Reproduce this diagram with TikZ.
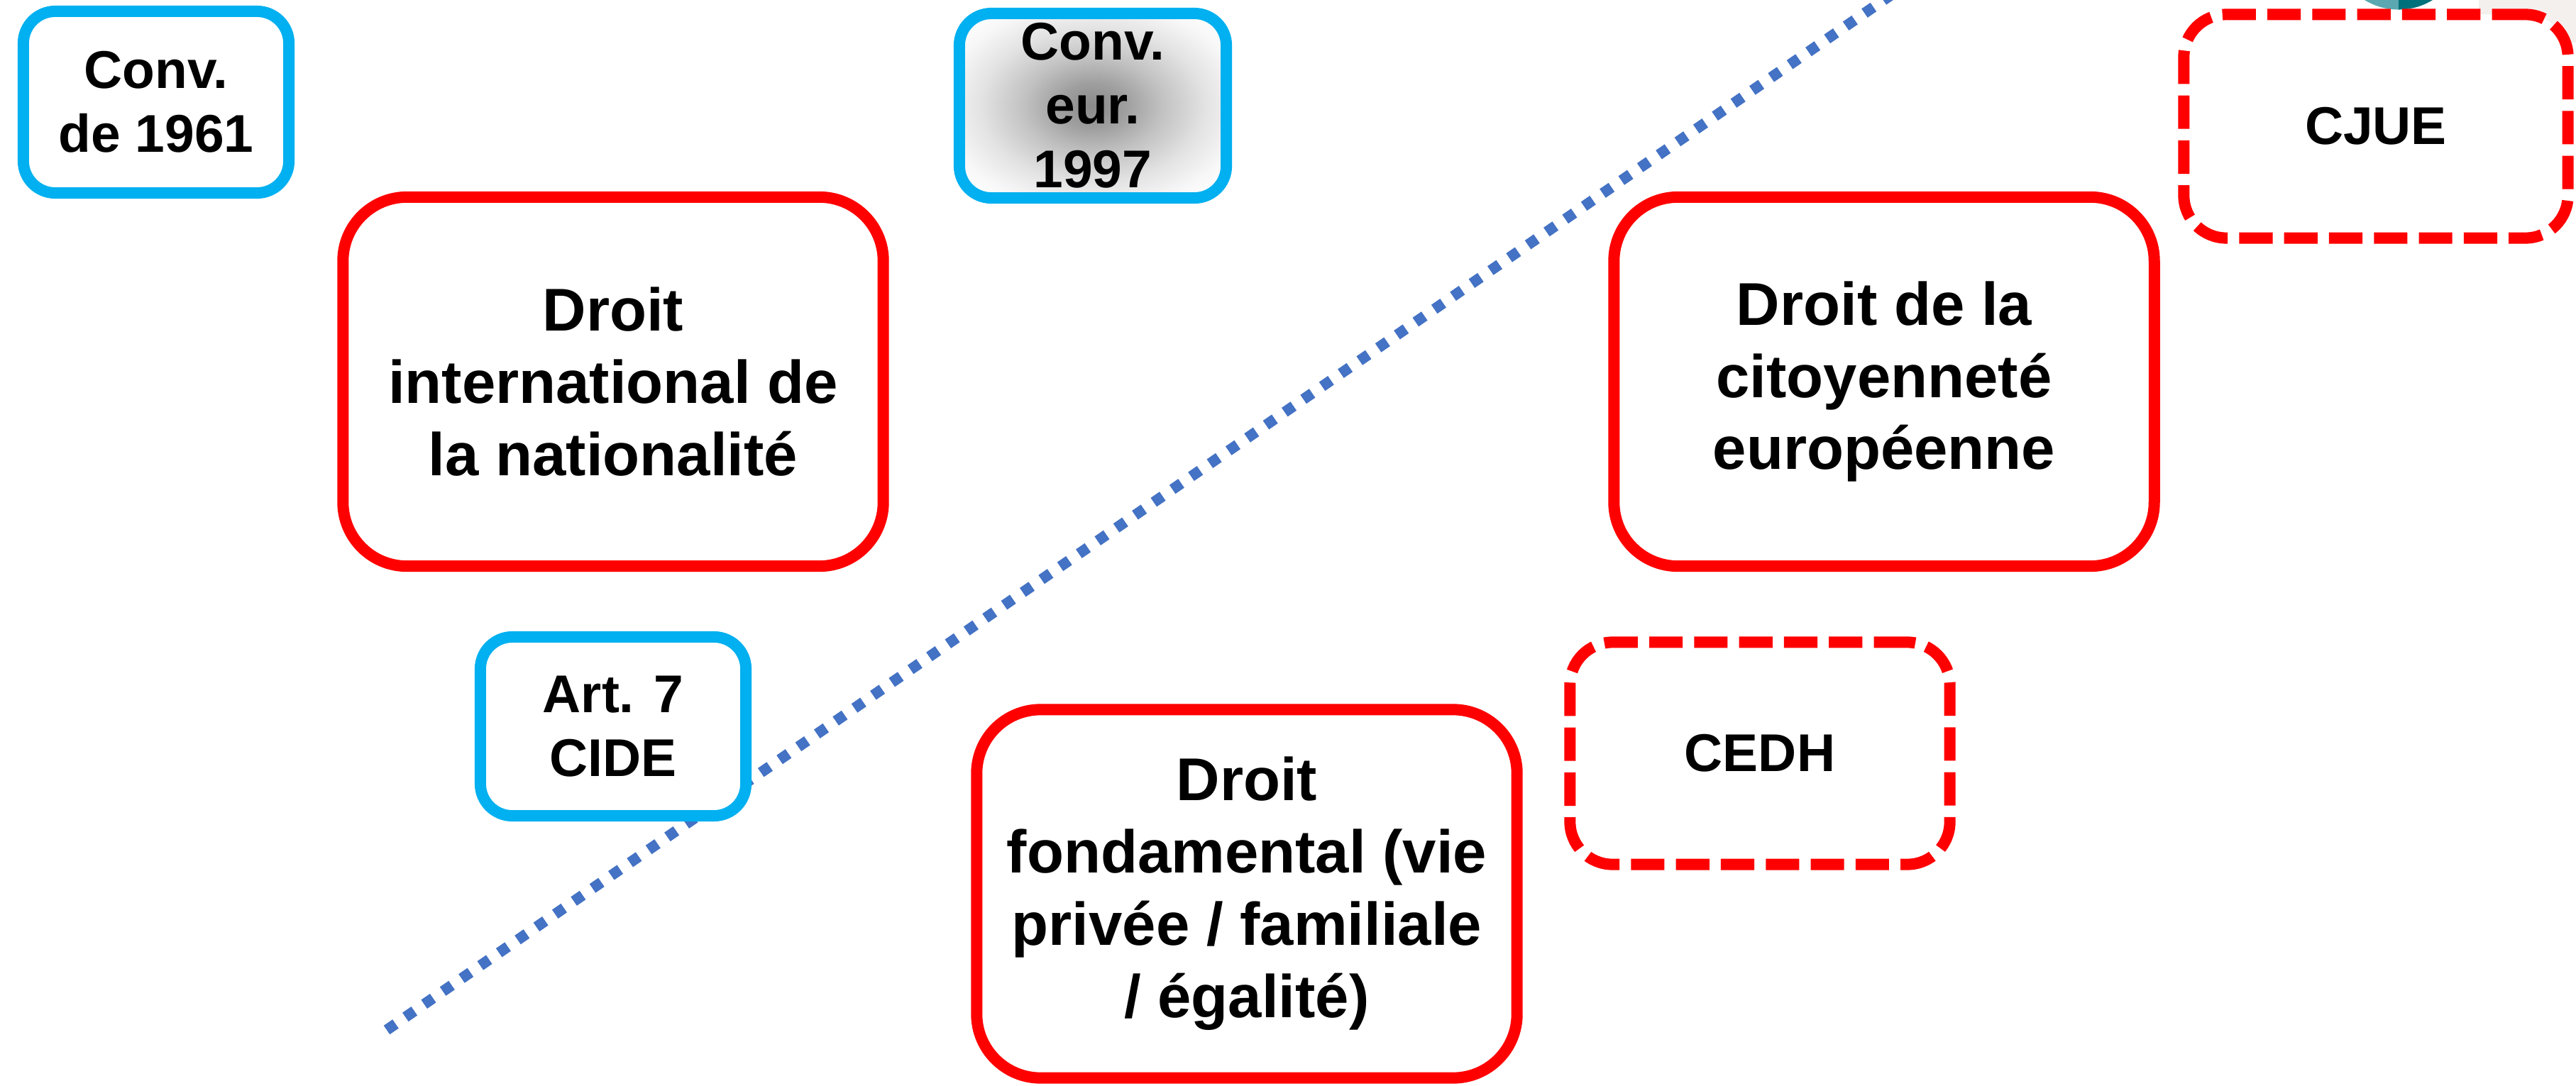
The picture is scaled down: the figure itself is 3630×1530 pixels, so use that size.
\documentclass[tikz,border=0pt]{standalone}
\usepackage{fontspec}
\setmainfont{Liberation Sans}
\definecolor{cjblue}{HTML}{00B0F0}
\definecolor{cjred}{HTML}{FF0000}
\definecolor{cjline}{HTML}{4472C4}
\definecolor{cjbg}{RGB}{243,240,238}
\definecolor{cjteallight}{RGB}{91,168,176}
\definecolor{cjtealdark}{RGB}{0,112,122}
\pgfdeclareradialshading{grayglow}{\pgfpoint{0bp}{0bp}}{color(0bp)=(black!46); color(6bp)=(black!38); color(13bp)=(black!24); color(21bp)=(black!11); color(28bp)=(black!3); color(33bp)=(white); color(50bp)=(white)}
\begin{document}
\begin{tikzpicture}[x=0.01cm, y=-0.01cm,
  every node/.style={align=center, inner sep=0pt},
  bluebox/.style={draw=cjblue, line width=4.55pt, rounded corners=0.45cm, fill=white,
    minimum width=3.74cm, minimum height=2.56cm,
    font=\bfseries\fontsize{21.3}{25.6}\selectfont},
  redbox/.style={draw=cjred, line width=4.55pt, rounded corners=0.9cm, fill=white,
    minimum width=7.61cm, minimum height=5.2cm,
    font=\bfseries\fontsize{24.2}{29}\selectfont},
  dashbox/.style={draw=cjred, line width=4.55pt, dash pattern=on 13.4pt off 4.6pt,
    rounded corners=0.6cm, fill=white,
    font=\bfseries\fontsize{21.3}{25.6}\selectfont},
  sepline/.style={draw=cjline, line width=4.3pt, dash pattern=on 4.3pt off 4.8pt}]
\useasboundingbox[fill=white] (0,0) rectangle (3630,1530);
% slide remnants at the top right
\fill[cjbg] (3493,0) rectangle (3630,60);
\begin{scope}
  \clip (3280,-5) rectangle (3380,40);
  \fill[cjteallight] (3380,-78) circle[radius=0.915cm];
\end{scope}
\begin{scope}
  \clip (3380,-5) rectangle (3480,40);
  \fill[cjtealdark] (3380,-78) circle[radius=0.915cm];
\end{scope}
% dotted separating line
\coordinate (ls) at (545,1452);
\coordinate (le) at (2669,-10);
\draw[sepline] (ls) -- (le);
% boxes
\node[bluebox] (c61) at (220,144) {Conv.\\de 1961};
\node[bluebox, shading=grayglow, minimum width=3.76cm, minimum height=2.6cm] (c97) at (1540,149) {Conv.\\eur.\\1997};
\node[bluebox, minimum height=2.52cm] (art7) at (864,1024) {Art. 7\\CIDE};
\node[redbox] (dint) at (864,538) {Droit\\international de\\la nationalité};
\node[redbox] (dcit) at (2655,538) {Droit de la\\citoyenneté\\européenne};
\node[redbox, minimum height=5.19cm] (dfond) at (1757,1260) {Droit\\fondamental (vie\\privée / familiale\\/ égalité)};
\node[dashbox, minimum width=5.41cm, minimum height=3.15cm] (cjue) at (3348,178) {CJUE};
\node[dashbox, minimum width=5.35cm, minimum height=3.13cm] (cedh) at (2480,1062) {CEDH};
\end{tikzpicture}
\end{document}
